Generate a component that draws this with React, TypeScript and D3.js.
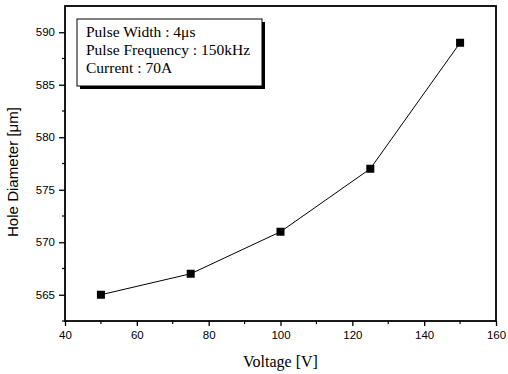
import * as React from "react";
import * as d3 from "d3";

const voltage = [50, 75, 100, 125, 150];
const holeDiameter = [565, 567, 571, 577, 589];
const xTicks = [40, 60, 80, 100, 120, 140, 160];
const yTicks = [565, 570, 575, 580, 585, 590];
const legendLines = ["Pulse Width : 4\u03bcs", "Pulse Frequency : 150kHz", "Current : 70A"];

const W = 508;
const H = 374;
const margin = { top: 6, right: 12, bottom: 53, left: 65 };

export default function App() {
  const ref = React.useRef<SVGSVGElement>(null);

  React.useEffect(() => {
    const svg = d3.select(ref.current);
    svg.selectAll("*").remove();

    const width = W - margin.left - margin.right;
    const height = H - margin.top - margin.bottom;

    const x = d3.scaleLinear().domain([40, 160]).range([0, width]);
    const y = d3.scaleLinear().domain([562.5, 592.5]).range([height, 0]);

    const g = svg.append("g").attr("transform", `translate(${margin.left},${margin.top})`);

    // frame
    g.append("rect")
      .attr("width", width)
      .attr("height", height)
      .attr("fill", "none")
      .attr("stroke", "#000")
      .attr("stroke-width", 1.8);

    // minor ticks
    const xMinor = d3.range(50, 160, 20);
    const yMinor = d3.range(562.5, 592.5, 5);
    g.selectAll(".xminor")
      .data(xMinor)
      .enter()
      .append("line")
      .attr("x1", (d) => x(d))
      .attr("x2", (d) => x(d))
      .attr("y1", height)
      .attr("y2", height + 3)
      .attr("stroke", "#000")
      .attr("stroke-width", 1.2);
    g.selectAll(".yminor")
      .data(yMinor)
      .enter()
      .append("line")
      .attr("x1", 0)
      .attr("x2", -3)
      .attr("y1", (d) => y(d))
      .attr("y2", (d) => y(d))
      .attr("stroke", "#000")
      .attr("stroke-width", 1.2);

    const xAxis = d3.axisBottom(x).tickValues(xTicks).tickSize(5).tickPadding(5);
    const yAxis = d3.axisLeft(y).tickValues(yTicks).tickSize(6).tickPadding(4);

    const ax = g.append("g").attr("transform", `translate(0,${height})`).call(xAxis);
    const ay = g.append("g").call(yAxis);
    [ax, ay].forEach((a) => {
      a.select(".domain").remove();
      a.selectAll(".tick line").attr("stroke", "#000").attr("stroke-width", 1.3);
      a.selectAll(".tick text")
        .attr("fill", "#000")
        .style("font-family", "Liberation Sans, Arial, sans-serif")
        .style("font-size", "11.5px");
    });

    // line and markers
    const pts = voltage.map((v, i) => [v, holeDiameter[i]] as [number, number]);
    const line = d3
      .line<[number, number]>()
      .x((d) => x(d[0]))
      .y((d) => y(d[1]));
    g.append("path")
      .datum(pts)
      .attr("d", line)
      .attr("fill", "none")
      .attr("stroke", "#000")
      .attr("stroke-width", 1);
    g.selectAll(".pt")
      .data(pts)
      .enter()
      .append("rect")
      .attr("x", (d) => x(d[0]) - 4)
      .attr("y", (d) => y(d[1]) - 4)
      .attr("width", 8)
      .attr("height", 8)
      .attr("fill", "#000");

    // legend box with shadow
    const lg = g.append("g").attr("transform", "translate(12,13)");
    const bw = 185;
    const bh = 67;
    lg.append("rect")
      .attr("x", 3)
      .attr("y", 3)
      .attr("width", bw)
      .attr("height", bh)
      .attr("fill", "#000");
    lg.append("rect")
      .attr("width", bw)
      .attr("height", bh)
      .attr("fill", "#fff")
      .attr("stroke", "#000")
      .attr("stroke-width", 1);
    lg.selectAll("text")
      .data(legendLines)
      .enter()
      .append("text")
      .attr("x", 9)
      .attr("y", (d, i) => 18 + i * 18)
      .text((d) => d)
      .style("font-family", "Liberation Serif, Times New Roman, serif")
      .style("font-size", "15.5px");

    // axis titles
    svg.append("text")
      .attr("x", margin.left + width / 2)
      .attr("y", 367)
      .attr("text-anchor", "middle")
      .text("Voltage [V]")
      .style("font-family", "Liberation Serif, Times New Roman, serif")
      .style("font-size", "16px");
    svg.append("text")
      .attr("transform", "translate(18,172) rotate(-90)")
      .attr("text-anchor", "middle")
      .attr("textLength", 130)
      .attr("lengthAdjust", "spacingAndGlyphs")
      .text("Hole Diameter [\u03bcm]")
      .style("font-family", "Liberation Sans, Arial, sans-serif")
      .style("font-size", "14px");
  }, []);

  return (
    <div style={{ position: "absolute", left: 0, top: 0 }}>
      <svg ref={ref} width={W} height={H} style={{ display: "block", background: "#fff" }} />
    </div>
  );
}
